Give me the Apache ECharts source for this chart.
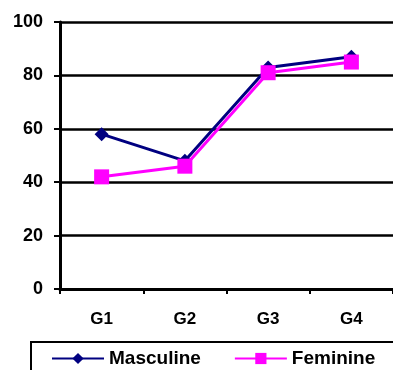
<!DOCTYPE html>
<html>
<head>
<meta charset="utf-8">
<script src="https://cdn.jsdelivr.net/npm/echarts@6/dist/echarts.min.js"></script>
<style>
  html, body { margin: 0; padding: 0; background: #fff; }
  #chart { width: 393px; height: 370px; }
</style>
</head>
<body>
<div id="chart"></div>
<script>
// Group scores by gender
const categories = ['G1', 'G2', 'G3', 'G4'];
const masculine = [58, 48, 83, 87];
const feminine = [42, 46, 81, 85];
const yTicks = [0, 20, 40, 60, 80, 100];

const chart = echarts.init(document.getElementById('chart'));
const font = 'Arial, "Liberation Sans", sans-serif';

chart.setOption({
  animation: false,
  backgroundColor: '#fff',
  grid: { left: 60, right: -3, top: 22, bottom: 81, containLabel: false },
  xAxis: {
    type: 'category',
    data: categories,
    boundaryGap: true,
    axisLine: { lineStyle: { color: '#000', width: 3 } },
    axisTick: { show: true, length: 5, lineStyle: { color: '#000', width: 2 } },
    axisLabel: { color: '#000', fontFamily: font, fontWeight: 'bold', fontSize: 17, margin: 22 }
  },
  yAxis: {
    type: 'value',
    min: yTicks[0],
    max: yTicks[yTicks.length - 1],
    interval: 20,
    axisLine: { show: true, lineStyle: { color: '#000', width: 3 } },
    axisTick: { show: true, length: 6, lineStyle: { color: '#000', width: 2 } },
    splitLine: { show: true, lineStyle: { color: '#000', width: 2.5 } },
    axisLabel: { color: '#000', fontFamily: font, fontWeight: 'bold', fontSize: 18, margin: 17 }
  },
  legend: {
    left: 46,
    top: 344,
    itemWidth: 52,
    itemHeight: 14,
    itemGap: 33,
    textStyle: { color: '#000', fontFamily: font, fontWeight: 'bold', fontSize: 19 },
    data: ['Masculine', 'Feminine']
  },
  graphic: [{
    type: 'rect',
    shape: { x: 31, y: 342, width: 400, height: 60 },
    style: { fill: 'none', stroke: '#000', lineWidth: 2 },
    z: 0
  }],
  series: [
    {
      name: 'Masculine',
      type: 'line',
      data: masculine,
      symbol: 'diamond',
      symbolSize: 14,
      color: '#000080',
      lineStyle: { color: '#000080', width: 3 },
      itemStyle: { color: '#000080' },
      z: 2
    },
    {
      name: 'Feminine',
      type: 'line',
      data: feminine,
      symbol: 'rect',
      symbolSize: 15,
      color: '#FF00FF',
      lineStyle: { color: '#FF00FF', width: 3 },
      itemStyle: { color: '#FF00FF' },
      z: 3
    }
  ]
});
</script>
</body>
</html>
